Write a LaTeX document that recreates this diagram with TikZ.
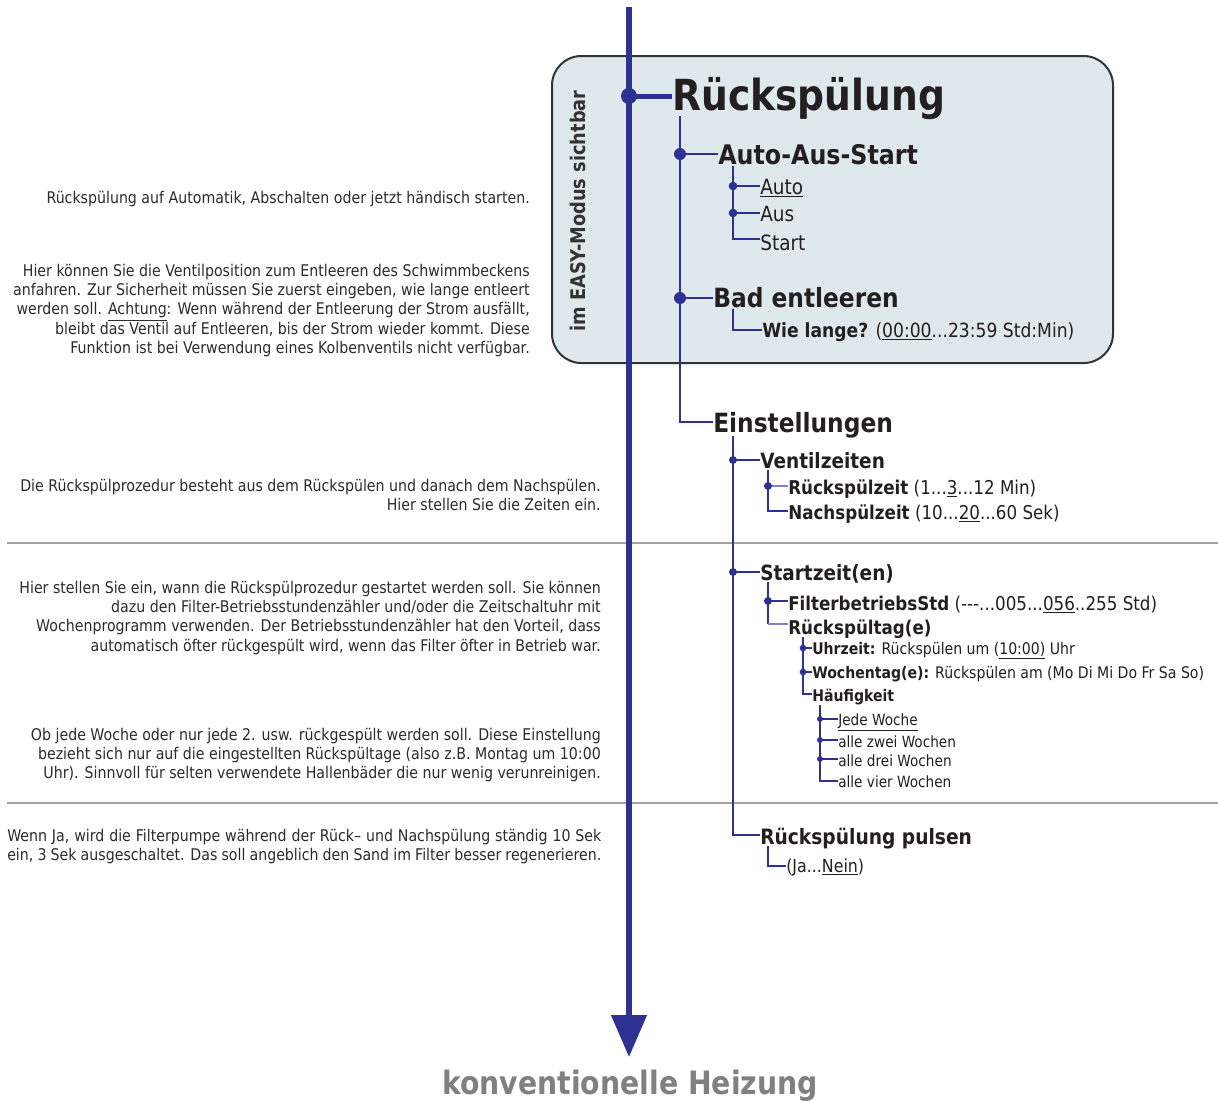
\documentclass[tikz,border=0pt]{standalone}
\usepackage{fontspec}
\setmainfont{DejaVu Sans}[FakeStretch=0.88]
\usetikzlibrary{arrows.meta}
\definecolor{navy}{HTML}{2E3192}
\definecolor{navylight}{HTML}{7F82C2}
\definecolor{boxfill}{HTML}{DFE8ED}
\definecolor{boxline}{HTML}{333333}
\definecolor{sepgray}{HTML}{A0A0A0}
\definecolor{txt}{HTML}{231F20}
\definecolor{para}{HTML}{2B2B2B}
\definecolor{footgray}{HTML}{808080}
\newcommand{\fpx}[1]{\fontsize{\dimexpr #1pt*3/4\relax}{\dimexpr #1pt*9/10\relax}\selectfont}
\begin{document}
\begin{tikzpicture}[x=0.75pt,y=-0.75pt,
  lbl/.style={inner sep=0pt, anchor=base west, text=txt},
  pr/.style={inner sep=0pt, anchor=base east, text=para, font=\fpx{16.1}},
  pl/.style={inner sep=0pt, anchor=base west, text=para, font=\fpx{16.1}},
  lw1/.style={draw=navy, line width=3.75pt},
  lw2/.style={draw=navy, line width=2.2pt},
  lw3/.style={draw=navy, line width=1.7pt},
  lw4/.style={draw=navy, line width=1.3pt},
  lw5/.style={draw=navy, line width=1.0pt},
  dot/.style={fill=navy, circle, inner sep=0pt, minimum size=#1}
]
\useasboundingbox (0,0) rectangle (1218,1101);

% box
\draw[fill=boxfill, draw=boxline, line width=1.5pt, rounded corners=22pt] (552,56) rectangle (1113,363);
\node[rotate=90, inner sep=0pt, text=boxline, font=\bfseries\fpx{20.2}] (easy) at (578,211) {im EASY-Modus sichtbar};

% separators
\coordinate (s1a) at (7,543); \coordinate (s1b) at (1218,543);
\coordinate (s2a) at (7,803); \coordinate (s2b) at (1218,803);
\draw[sepgray, line width=1.2pt] (s1a) -- (s1b);
\draw[sepgray, line width=1.2pt] (s2a) -- (s2b);

% left texts
\node[pr] (a1) at (530,203) {Rückspülung auf Automatik, Abschalten oder jetzt händisch starten.};
\node[pr] (b1) at (530,276) {Hier können Sie die Ventilposition zum Entleeren des Schwimmbeckens};
\node[pr] (b2) at (530,295.3) {anfahren. Zur Sicherheit müssen Sie zuerst eingeben, wie lange entleert};
\node[pr] (b3) at (530,314.6) {werden soll. \underline{Achtung}: Wenn während der Entleerung der Strom ausfällt,};
\node[pr] (b4) at (530,334) {bleibt das Ventil auf Entleeren, bis der Strom wieder kommt. Diese};
\node[pr] (b5) at (530,353.3) {Funktion ist bei Verwendung eines Kolbenventils nicht verfügbar.};
\node[pr] (c1) at (601,491) {Die Rückspülprozedur besteht aus dem Rückspülen und danach dem Nachspülen.};
\node[pr] (c2) at (601,510) {Hier stellen Sie die Zeiten ein.};
\node[pr] (d1) at (601,593) {Hier stellen Sie ein, wann die Rückspülprozedur gestartet werden soll. Sie können};
\node[pr] (d2) at (601,612.3) {dazu den Filter-Betriebsstundenzähler und/oder die Zeitschaltuhr mit};
\node[pr] (d3) at (601,631.6) {Wochenprogramm verwenden. Der Betriebsstundenzähler hat den Vorteil, dass};
\node[pr] (d4) at (601,651) {automatisch öfter rückgespült wird, wenn das Filter öfter in Betrieb war.};
\node[pr] (e1) at (601,740) {Ob jede Woche oder nur jede 2. usw. rückgespült werden soll. Diese Einstellung};
\node[pr] (e2) at (601,759.3) {bezieht sich nur auf die eingestellten Rückspültage (also z.B. Montag um 10:00};
\node[pr] (e3) at (601,778.6) {Uhr). Sinnvoll für selten verwendete Hallenbäder die nur wenig verunreinigen.};
\node[pl] (f1) at (7,841) {\hbox to 445.5pt{Wenn Ja, wird die Filterpumpe während der Rück– und Nachspülung ständig 10 Sek}};
\node[pl] (f2) at (7,860.3) {\hbox to 445.5pt{ein, 3 Sek ausgeschaltet. Das soll angeblich den Sand im Filter besser regenerieren.}};

% tree texts
\node[lbl, font=\bfseries\fpx{42.8}] (root) at (672,110) {Rückspülung};
\node[lbl, font=\bfseries\fpx{27}] (aas) at (718,164) {Auto-Aus-Start};
\node[lbl, font=\fpx{21}] (auto) at (760,194) {\underline{Auto}};
\node[lbl, font=\fpx{21}] (aus) at (760,221) {Aus};
\node[lbl, font=\fpx{21}] (start) at (760,250) {Start};
\node[lbl, font=\bfseries\fpx{26.5}] (bad) at (713,307) {Bad entleeren};
\node[lbl, font=\fpx{19.5}] (wie) at (762,337) {\textbf{Wie lange?} (\underline{00:00}...23:59 Std:Min)};
\node[lbl, font=\bfseries\fpx{26.5}] (einst) at (713,432) {Einstellungen};
\node[lbl, font=\bfseries\fpx{21}] (ventil) at (760,468) {Ventilzeiten};
\node[lbl, font=\fpx{19}] (rsz) at (788,494) {\textbf{Rückspülzeit} (1...\underline{3}...12 Min)};
\node[lbl, font=\fpx{19}] (nsz) at (788,519) {\textbf{Nachspülzeit} (10...\underline{20}...60 Sek)};
\node[lbl, font=\bfseries\fpx{21}] (startz) at (760,580) {Startzeit(en)};
\node[lbl, font=\fpx{19}] (fbs) at (788,610) {\textbf{FilterbetriebsStd} (-{}-{}-...005...\underline{056}..255 Std)};
\node[lbl, font=\bfseries\fpx{19}] (rtag) at (788,634) {Rückspültag(e)};
\node[lbl, font=\fpx{16}] (uhr) at (812,654) {\textbf{Uhrzeit:} Rückspülen um (\underline{10:00)} Uhr};
\node[lbl, font=\fpx{16}] (woch) at (812,678) {\textbf{Wochentag(e):} Rückspülen am (Mo Di Mi Do Fr Sa So)};
\node[lbl, font=\bfseries\fpx{16}] (haeuf) at (812,701) {Häufigkeit};
\node[lbl, font=\fpx{15.5}] (h1) at (838,725) {\underline{Jede Woche}};
\node[lbl, font=\fpx{15.5}] (h2) at (838,747) {alle zwei Wochen};
\node[lbl, font=\fpx{15.5}] (h3) at (838,766) {alle drei Wochen};
\node[lbl, font=\fpx{15.5}] (h4) at (838,787) {alle vier Wochen};
\node[lbl, font=\bfseries\fpx{21.2}] (puls) at (760,844) {Rückspülung pulsen};
\node[lbl, font=\fpx{18}] (jn) at (786,872) {(Ja...\underline{Nein})};

\node[inner sep=0pt, anchor=base, text=footgray, font=\bfseries\fpx{32.2}] (heiz) at (630,1094) {konventionelle Heizung};

% main line
\coordinate (mtop) at (629,7);
\coordinate (mbot) at (629,1057);
\draw[navy, line width=4.2pt, -{Triangle[length=31.5pt,width=26pt]}] (mtop) -- (mbot);

% root
\coordinate (r0) at (629,96);
\draw[lw1] (r0) -- (root.west |- r0);
\node[dot=12pt] (rd) at (r0) {};

% level 1
\coordinate (v1top) at (680,116);
\coordinate (v1a) at (680,154);
\coordinate (v1b) at (680,298);
\coordinate (v1c) at (680,422);
\draw[lw2] (v1top) -- (v1c) -- (einst.west |- v1c);
\draw[lw2] (v1a) -- (aas.west |- v1a);
\draw[lw2] (v1b) -- (bad.west |- v1b);
\node[dot=9pt] at (v1a) {};
\node[dot=9pt] at (v1b) {};

% Auto-Aus-Start children
\coordinate (v2top) at (733,166);
\coordinate (v2a) at (733,186);
\coordinate (v2b) at (733,213);
\coordinate (v2c) at (733,239);
\draw[lw3] (v2top) -- (v2c) -- (start.west |- v2c);
\draw[lw3] (v2a) -- (auto.west |- v2a);
\draw[lw3] (v2b) -- (aus.west |- v2b);
\node[dot=6.5pt] at (v2a) {};
\node[dot=6.5pt] at (v2b) {};

% Bad entleeren child
\coordinate (v3top) at (733,309);
\coordinate (v3a) at (733,330);
\draw[lw3] (v3top) -- (v3a) -- (wie.west |- v3a);

% Einstellungen children
\coordinate (v4top) at (733,436);
\coordinate (v4a) at (733,460);
\coordinate (v4b) at (733,572);
\coordinate (v4c) at (733,835);
\draw[lw3] (v4top) -- (v4c) -- (puls.west |- v4c);
\draw[lw3] (v4a) -- (ventil.west |- v4a);
\draw[lw3] (v4b) -- (startz.west |- v4b);
\node[dot=6pt] at (v4a) {};
\node[dot=6pt] at (v4b) {};

% Ventilzeiten children
\coordinate (v5top) at (768,470);
\coordinate (v5a) at (768,486);
\coordinate (v5b) at (768,511);
\draw[lw4] (v5top) -- (v5b) -- (nsz.west |- v5b);
\draw[draw=navylight, line width=1.3pt] (v5a) -- (rsz.west |- v5a);
\node[dot=6pt] at (v5a) {};

% Startzeit children
\coordinate (v6top) at (768,582);
\coordinate (v6a) at (768,601);
\coordinate (v6b) at (768,624);
\draw[lw4] (v6top) -- (v6b);
\draw[draw=navylight, line width=1.3pt] (v6b) -- (rtag.west |- v6b);
\draw[lw4] (v6a) -- (fbs.west |- v6a);
\node[dot=6pt] at (v6a) {};

% Rückspültag children
\coordinate (v7top) at (803,637);
\coordinate (v7a) at (803,648);
\coordinate (v7b) at (803,672);
\coordinate (v7c) at (803,694);
\draw[lw4] (v7top) -- (v7c) -- (haeuf.west |- v7c);
\draw[lw4] (v7a) -- (uhr.west |- v7a);
\draw[lw4] (v7b) -- (woch.west |- v7b);
\node[dot=5pt] at (v7a) {};
\node[dot=5pt] at (v7b) {};

% Häufigkeit children
\coordinate (v8top) at (820,705);
\coordinate (v8a) at (820,719);
\coordinate (v8b) at (820,740);
\coordinate (v8c) at (820,759);
\coordinate (v8d) at (820,781);
\draw[lw5] (v8top) -- (v8d) -- (h4.west |- v8d);
\draw[lw5] (v8a) -- (h1.west |- v8a);
\draw[lw5] (v8b) -- (h2.west |- v8b);
\draw[lw5] (v8c) -- (h3.west |- v8c);
\node[dot=4.5pt] at (v8a) {};
\node[dot=4.5pt] at (v8b) {};
\node[dot=4.5pt] at (v8c) {};

% pulsen child
\coordinate (v9top) at (768,846);
\coordinate (v9a) at (768,866);
\draw[lw4] (v9top) -- (v9a) -- (jn.west |- v9a);
\end{tikzpicture}
\end{document}
